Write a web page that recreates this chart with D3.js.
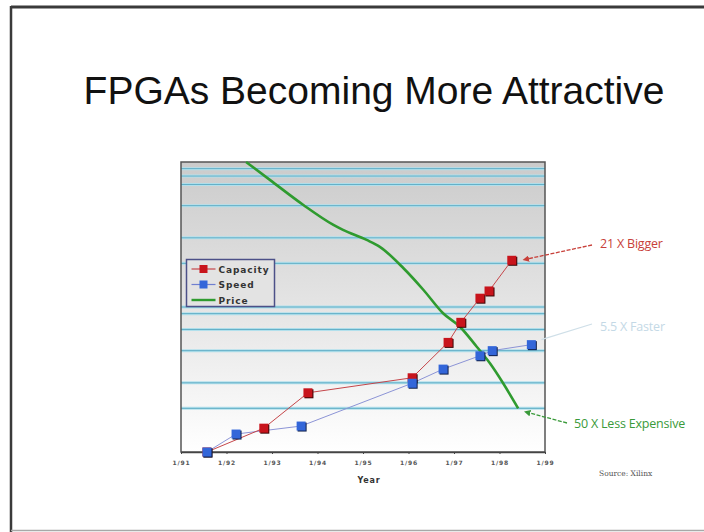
<!DOCTYPE html>
<html>
<head>
<meta charset="utf-8">
<script src="https://cdn.jsdelivr.net/npm/d3@7"></script>
<style>
  html, body { margin: 0; padding: 0; background: #fff; }
  svg { display: block; }
</style>
</head>
<body>
<svg id="chart" width="704" height="532"></svg>
<script>
// Years (decimal) and relative values, 1991 baseline = 1 (log scale)
const capacityYears  = [1991.57, 1992.82, 1993.79, 1996.08, 1996.87, 1997.15, 1997.57, 1997.77, 1998.27];
const capacityValues = [1, 1.46, 2.56, 3.25, 5.7, 7.84, 11.5, 12.9, 21];

const speedYears  = [1991.57, 1992.21, 1993.64, 1996.08, 1996.76, 1997.57, 1997.84, 1998.7];
const speedValues = [1, 1.33, 1.51, 2.98, 3.73, 4.61, 5.0, 5.5];

const priceYears  = [1992.43, 1992.96, 1993.69, 1994.35, 1994.56, 1995.08, 1995.37, 1995.89, 1996.33, 1996.76, 1997.13, 1997.5, 1997.79, 1998.08, 1998.41];
const priceValues = [100, 75, 50.5, 36.8, 34, 29, 26, 18.5, 13.1, 9.05, 7.31, 5.32, 4.09, 2.98, 2];

const tickYears  = [1991, 1992, 1993, 1994, 1995, 1996, 1997, 1998, 1999];
const tickLabels = ["1/91", "1/92", "1/93", "1/94", "1/95", "1/96", "1/97", "1/98", "1/99"];

const gridValues = [2, 3, 5, 7, 9, 10, 20, 30, 50, 70, 80, 90];

const seriesNames = ["Capacity", "Speed", "Price"];
const annotations = ["21 X Bigger", "5.5 X Faster", "50 X Less Expensive"];

const svg = d3.select("#chart");

// slide frame
svg.append("line").attr("x1", 11).attr("x2", 704).attr("y1", 7).attr("y2", 7)
  .attr("stroke", "#3a3a3a").attr("stroke-width", 3);
svg.append("line").attr("x1", 11).attr("x2", 11).attr("y1", 6).attr("y2", 532)
  .attr("stroke", "#3a3a3a").attr("stroke-width", 2.5);
svg.append("line").attr("x1", 11).attr("x2", 704).attr("y1", 530.5).attr("y2", 530.5)
  .attr("stroke", "#a8a8a8").attr("stroke-width", 1.5);

// title
svg.append("text")
  .attr("x", 374).attr("y", 104)
  .attr("text-anchor", "middle")
  .attr("font-family", "Liberation Sans, Arial, Helvetica, sans-serif")
  .attr("font-size", 39)
  .attr("fill", "#111")
  .text("FPGAs Becoming More Attractive");

const plotL = 181, plotR = 545, plotT = 162, plotB = 452;

const x = d3.scaleLinear().domain([1991, 1999]).range([plotL, plotR]);
const y = d3.scaleLog().domain([1, 100]).range([plotB, plotT]);

// plot background gradient
const defs = svg.append("defs");
const grad = defs.append("linearGradient").attr("id", "bg")
  .attr("x1", 0).attr("y1", 0).attr("x2", 0).attr("y2", 1);
grad.append("stop").attr("offset", "0%").attr("stop-color", "#cbcbcb");
grad.append("stop").attr("offset", "45%").attr("stop-color", "#e2e2e2");
grad.append("stop").attr("offset", "100%").attr("stop-color", "#ffffff");

svg.append("rect")
  .attr("x", plotL).attr("y", plotT)
  .attr("width", plotR - plotL).attr("height", plotB - plotT)
  .attr("fill", "url(#bg)");

// horizontal grid
const grid = svg.append("g");
grid.selectAll("line.halo").data(gridValues).join("line")
  .attr("class", "halo")
  .attr("x1", plotL).attr("x2", plotR)
  .attr("y1", d => y(d)).attr("y2", d => y(d))
  .attr("stroke", "#b2e0ec").attr("stroke-width", 3);
grid.selectAll("line.core").data(gridValues).join("line")
  .attr("class", "core")
  .attr("x1", plotL).attr("x2", plotR)
  .attr("y1", d => y(d)).attr("y2", d => y(d))
  .attr("stroke", "#62aec6").attr("stroke-width", 1);

// plot frame
svg.append("rect")
  .attr("x", plotL).attr("y", plotT)
  .attr("width", plotR - plotL).attr("height", plotB - plotT)
  .attr("fill", "none").attr("stroke", "#555").attr("stroke-width", 1.5);

// x axis
const xAxis = d3.axisBottom(x)
  .tickValues(tickYears)
  .tickFormat((d, i) => tickLabels[i])
  .tickSizeInner(2).tickSizeOuter(0).tickPadding(7);
const gx = svg.append("g").attr("transform", `translate(0,${plotB})`).call(xAxis);
gx.select(".domain").attr("stroke", "#444").attr("stroke-width", 1.5);
gx.selectAll(".tick line").attr("stroke", "#444");
gx.selectAll(".tick text")
  .attr("font-family", "DejaVu Sans, sans-serif")
  .attr("font-weight", "bold")
  .attr("font-size", 6).attr("letter-spacing", 0.8).attr("fill", "#555");

svg.append("text")
  .attr("x", 369).attr("y", 483)
  .attr("text-anchor", "middle")
  .attr("font-family", "DejaVu Sans, sans-serif")
  .attr("font-weight", "bold").attr("font-size", 8)
  .attr("letter-spacing", 0.8)
  .attr("fill", "#333").text("Year");

// series lines
const capPts = capacityYears.map((t, i) => [t, capacityValues[i]]);
const spdPts = speedYears.map((t, i) => [t, speedValues[i]]);
const prcPts = priceYears.map((t, i) => [t, priceValues[i]]);

const line = d3.line().x(d => x(d[0])).y(d => y(d[1]));
const smooth = d3.line().x(d => x(d[0])).y(d => y(d[1])).curve(d3.curveMonotoneX);

svg.append("path").datum(spdPts).attr("d", line)
  .attr("fill", "none").attr("stroke", "#8c94d6").attr("stroke-width", 1);
svg.append("path").datum(capPts).attr("d", line)
  .attr("fill", "none").attr("stroke", "#c5464a").attr("stroke-width", 1);
svg.append("path").datum(prcPts).attr("d", smooth)
  .attr("fill", "none").attr("stroke", "#2f9b2f").attr("stroke-width", 2.6);

// square markers with a dark drop edge
function markers(pts, fill, shade) {
  const g = svg.append("g");
  g.selectAll("rect.s").data(pts).join("rect").attr("class", "s")
    .attr("x", d => x(d[0]) - 3.5).attr("y", d => y(d[1]) - 3.5)
    .attr("width", 9).attr("height", 9).attr("fill", shade);
  g.selectAll("rect.f").data(pts).join("rect").attr("class", "f")
    .attr("x", d => x(d[0]) - 4.5).attr("y", d => y(d[1]) - 4.5)
    .attr("width", 9).attr("height", 9).attr("fill", fill);
}
markers(capPts, "#c8141c", "#3c0606");
markers(spdPts, "#3366d9", "#10204a");

// legend
const lg = svg.append("g").attr("transform", "translate(186.5,259.5)");
lg.append("rect").attr("width", 88).attr("height", 47)
  .attr("fill", "#e3e3e3").attr("stroke", "#4c5088").attr("stroke-width", 1.5);
const legendColors = ["#c8141c", "#3366d9", "#2f9b2f"];
const legendLines = ["#c5464a", "#6f7fd0", "#2f9b2f"];
seriesNames.forEach((name, i) => {
  const cy = 9.5 + i * 15.5;
  lg.append("line").attr("x1", 5).attr("x2", 29).attr("y1", cy).attr("y2", cy)
    .attr("stroke", legendLines[i]).attr("stroke-width", i === 2 ? 2.4 : 1.2);
  if (i < 2) {
    lg.append("rect").attr("x", 13).attr("y", cy - 4).attr("width", 8).attr("height", 8)
      .attr("fill", legendColors[i]);
  }
  lg.append("text").attr("x", 32).attr("y", cy + 3.5)
    .attr("font-family", "DejaVu Sans, sans-serif")
    .attr("font-weight", "bold").attr("font-size", 9)
    .attr("letter-spacing", 0.9)
    .attr("fill", "#333").text(name);
});

// annotations with arrows
function arrowHead(id, color) {
  defs.append("marker").attr("id", id)
    .attr("viewBox", "0 0 10 10").attr("refX", 5).attr("refY", 5)
    .attr("markerWidth", 5).attr("markerHeight", 5).attr("orient", "auto")
    .append("path").attr("d", "M0,0 L10,5 L0,10 z").attr("fill", color);
}
arrowHead("ahRed", "#c8403a");
arrowHead("ahGreen", "#3a9a3a");

const capLast = capPts[capPts.length - 1];
const spdLast = spdPts[spdPts.length - 1];
const prcLast = prcPts[prcPts.length - 1];

const noteFont = "Open Sans, sans-serif";

svg.append("line")
  .attr("x1", 592).attr("y1", 245)
  .attr("x2", x(capLast[0]) + 14).attr("y2", y(capLast[1]) - 1)
  .attr("stroke", "#c8403a").attr("stroke-width", 1.3).attr("stroke-dasharray", "4,1.5")
  .attr("marker-end", "url(#ahRed)");
svg.append("text").attr("x", 600).attr("y", 247.5)
  .attr("font-family", noteFont).attr("font-size", 12.5)
  .attr("letter-spacing", -0.2)
  .attr("fill", "#c8403a").text(annotations[0]);

svg.append("line")
  .attr("x1", 592).attr("y1", 324)
  .attr("x2", x(spdLast[0]) + 10).attr("y2", y(spdLast[1]) - 5)
  .attr("stroke", "#cfdfe8").attr("stroke-width", 1.3);
svg.append("text").attr("x", 600).attr("y", 330.5)
  .attr("font-family", noteFont).attr("font-size", 12.5)
  .attr("letter-spacing", -0.2)
  .attr("fill", "#c4d9e6").text(annotations[1]);

svg.append("line")
  .attr("x1", 567).attr("y1", 423)
  .attr("x2", x(prcLast[0]) + 9).attr("y2", y(prcLast[1]) + 4)
  .attr("stroke", "#3a9a3a").attr("stroke-width", 1.3).attr("stroke-dasharray", "4,1.5")
  .attr("marker-end", "url(#ahGreen)");
svg.append("text").attr("x", 574).attr("y", 427.5)
  .attr("font-family", noteFont).attr("font-size", 12.5)
  .attr("letter-spacing", -0.2)
  .attr("fill", "#3a9a3a").text(annotations[2]);

// source note
svg.append("text").attr("x", 599).attr("y", 476)
  .attr("font-family", "DejaVu Serif, serif").attr("font-size", 7.5)
  .attr("fill", "#555").text("Source: Xilinx");
</script>
</body>
</html>
